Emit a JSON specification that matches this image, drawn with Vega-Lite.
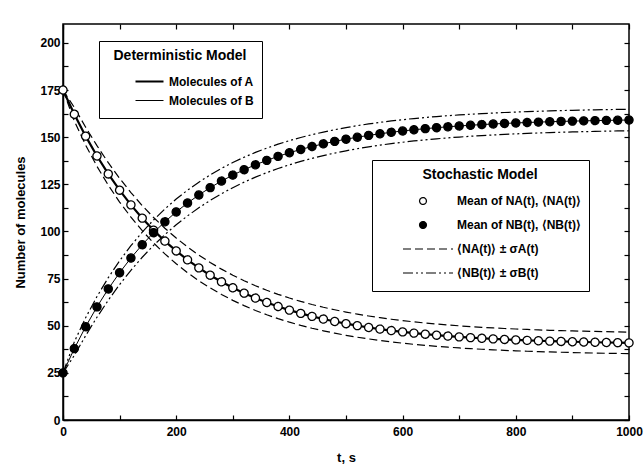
{
  "$schema": "https://vega.github.io/schema/vega-lite/v6.json",
  "width": 566,
  "height": 396,
  "autosize": "none",
  "padding": {"left": 63, "top": 24, "right": 15, "bottom": 49},
  "background": "white",
  "datasets": {
    "d": [
      {"t":0,"A":175,"B":25,"Aup":175,"Alo":175,"Bup":25,"Blo":25},
      {"t":20,"A":162.15,"B":37.85,"Aup":165.72,"Alo":158.58,"Bup":41.42,"Blo":34.28},
      {"t":40,"A":150.53,"B":49.47,"Aup":155.28,"Alo":145.78,"Bup":54.22,"Blo":44.72},
      {"t":60,"A":140.01,"B":59.99,"Aup":145.49,"Alo":134.53,"Bup":65.47,"Blo":54.51},
      {"t":80,"A":130.49,"B":69.51,"Aup":136.45,"Alo":124.53,"Bup":75.47,"Blo":63.55},
      {"t":100,"A":121.88,"B":78.12,"Aup":128.17,"Alo":115.59,"Bup":84.41,"Blo":71.83},
      {"t":120,"A":114.09,"B":85.91,"Aup":120.6,"Alo":107.58,"Bup":92.42,"Blo":79.4},
      {"t":140,"A":107.04,"B":92.96,"Aup":113.7,"Alo":100.38,"Bup":99.62,"Blo":86.3},
      {"t":160,"A":100.66,"B":99.34,"Aup":107.41,"Alo":93.91,"Bup":106.09,"Blo":92.59},
      {"t":180,"A":94.89,"B":105.11,"Aup":101.69,"Alo":88.09,"Bup":111.91,"Blo":98.31},
      {"t":200,"A":89.66,"B":110.34,"Aup":96.48,"Alo":82.84,"Bup":117.16,"Blo":103.52},
      {"t":220,"A":84.94,"B":115.06,"Aup":91.76,"Alo":78.12,"Bup":121.88,"Blo":108.24},
      {"t":240,"A":80.66,"B":119.34,"Aup":87.45,"Alo":73.87,"Bup":126.13,"Blo":112.55},
      {"t":260,"A":76.79,"B":123.21,"Aup":83.55,"Alo":70.03,"Bup":129.97,"Blo":116.45},
      {"t":280,"A":73.29,"B":126.71,"Aup":80.01,"Alo":66.57,"Bup":133.43,"Blo":119.99},
      {"t":300,"A":70.12,"B":129.88,"Aup":76.79,"Alo":63.45,"Bup":136.55,"Blo":123.21},
      {"t":320,"A":67.26,"B":132.74,"Aup":73.87,"Alo":60.65,"Bup":139.35,"Blo":126.13},
      {"t":340,"A":64.66,"B":135.34,"Aup":71.22,"Alo":58.1,"Bup":141.9,"Blo":128.78},
      {"t":360,"A":62.32,"B":137.68,"Aup":68.82,"Alo":55.82,"Bup":144.18,"Blo":131.18},
      {"t":380,"A":60.19,"B":139.81,"Aup":66.64,"Alo":53.74,"Bup":146.26,"Blo":133.36},
      {"t":400,"A":58.27,"B":141.73,"Aup":64.67,"Alo":51.87,"Bup":148.13,"Blo":135.33},
      {"t":420,"A":56.53,"B":143.47,"Aup":62.87,"Alo":50.19,"Bup":149.81,"Blo":137.13},
      {"t":440,"A":54.96,"B":145.04,"Aup":61.25,"Alo":48.67,"Bup":151.33,"Blo":138.75},
      {"t":460,"A":53.54,"B":146.46,"Aup":59.78,"Alo":47.3,"Bup":152.7,"Blo":140.22},
      {"t":480,"A":52.25,"B":147.75,"Aup":58.45,"Alo":46.05,"Bup":153.95,"Blo":141.55},
      {"t":500,"A":51.08,"B":148.92,"Aup":57.24,"Alo":44.92,"Bup":155.08,"Blo":142.76},
      {"t":520,"A":50.03,"B":149.97,"Aup":56.15,"Alo":43.91,"Bup":156.09,"Blo":143.85},
      {"t":540,"A":49.07,"B":150.93,"Aup":55.15,"Alo":42.99,"Bup":157.01,"Blo":144.85},
      {"t":560,"A":48.21,"B":151.79,"Aup":54.25,"Alo":42.17,"Bup":157.83,"Blo":145.75},
      {"t":580,"A":47.43,"B":152.57,"Aup":53.44,"Alo":41.42,"Bup":158.58,"Blo":146.56},
      {"t":600,"A":46.72,"B":153.28,"Aup":52.7,"Alo":40.74,"Bup":159.26,"Blo":147.3},
      {"t":620,"A":46.08,"B":153.92,"Aup":52.03,"Alo":40.13,"Bup":159.87,"Blo":147.97},
      {"t":640,"A":45.5,"B":154.5,"Aup":51.43,"Alo":39.57,"Bup":160.43,"Blo":148.57},
      {"t":660,"A":44.98,"B":155.02,"Aup":50.88,"Alo":39.08,"Bup":160.92,"Blo":149.12},
      {"t":680,"A":44.51,"B":155.49,"Aup":50.39,"Alo":38.63,"Bup":161.37,"Blo":149.61},
      {"t":700,"A":44.08,"B":155.92,"Aup":49.94,"Alo":38.22,"Bup":161.78,"Blo":150.06},
      {"t":720,"A":43.69,"B":156.31,"Aup":49.53,"Alo":37.85,"Bup":162.15,"Blo":150.47},
      {"t":740,"A":43.34,"B":156.66,"Aup":49.17,"Alo":37.51,"Bup":162.49,"Blo":150.83},
      {"t":760,"A":43.02,"B":156.98,"Aup":48.83,"Alo":37.21,"Bup":162.79,"Blo":151.17},
      {"t":780,"A":42.73,"B":157.27,"Aup":48.53,"Alo":36.93,"Bup":163.07,"Blo":151.47},
      {"t":800,"A":42.47,"B":157.53,"Aup":48.25,"Alo":36.69,"Bup":163.31,"Blo":151.75},
      {"t":820,"A":42.24,"B":157.76,"Aup":48.01,"Alo":36.47,"Bup":163.53,"Blo":151.99},
      {"t":840,"A":42.02,"B":157.98,"Aup":47.78,"Alo":36.26,"Bup":163.74,"Blo":152.22},
      {"t":860,"A":41.83,"B":158.17,"Aup":47.58,"Alo":36.08,"Bup":163.92,"Blo":152.42},
      {"t":880,"A":41.66,"B":158.34,"Aup":47.4,"Alo":35.92,"Bup":164.08,"Blo":152.6},
      {"t":900,"A":41.5,"B":158.5,"Aup":47.24,"Alo":35.76,"Bup":164.24,"Blo":152.76},
      {"t":920,"A":41.36,"B":158.64,"Aup":47.09,"Alo":35.63,"Bup":164.37,"Blo":152.91},
      {"t":940,"A":41.23,"B":158.77,"Aup":46.95,"Alo":35.51,"Bup":164.49,"Blo":153.05},
      {"t":960,"A":41.11,"B":158.89,"Aup":46.83,"Alo":35.39,"Bup":164.61,"Blo":153.17},
      {"t":980,"A":41.01,"B":158.99,"Aup":46.72,"Alo":35.3,"Bup":164.7,"Blo":153.28},
      {"t":1000,"A":40.91,"B":159.09,"Aup":46.61,"Alo":35.21,"Bup":164.79,"Blo":153.39}
    ]
  },
  "data": {"name": "d"},
  "resolve": {"axis": {"x": "independent", "y": "independent"}},
  "layer": [
    {
      "mark": {"type": "line", "color": "black"},
      "encoding": {
        "x": {"field": "t", "type": "quantitative", "scale": {"domain": [0, 1000], "nice": false},
          "axis": {"orient": "bottom", "values": [0,100,200,300,400,500,600,700,800,900,1000], "format": "d",
            "labelExpr": "datum.value % 200 === 0 ? datum.label : ''", "labelPadding": 11, "title": "t, s", "titlePadding": 14}},
        "y": {"field": "A", "type": "quantitative", "scale": {"domain": [0, 210], "nice": false, "zero": false},
          "axis": {"orient": "left", "values": [0,12.5,25,37.5,50,62.5,75,87.5,100,112.5,125,137.5,150,162.5,175,187.5,200],
            "labelExpr": "datum.value % 25 === 0 ? datum.label : ''", "labelPadding": 8, "title": "Number of molecules", "titlePadding": 12}},
        "strokeWidth": {"datum": "Molecules of A", "type": "nominal",
          "scale": {"domain": ["Molecules of A", "Molecules of B"], "range": [2.2, 1]},
          "legend": {
            "title": "Deterministic Model",
            "orient": "none", "legendX": 36, "legendY": 17,
            "symbolType": "stroke", "symbolSize": 784, "symbolStrokeColor": "black",
            "clipHeight": 19, "rowPadding": 0, "padding": 8, "titlePadding": 9,
            "symbolOffset": 27, "labelOffset": 4,
            "titleAnchor": "middle", "titleFontSize": 14, "titleFontWeight": "bold", "titleColor": "black",
            "labelFontSize": 12, "labelFontWeight": "bold", "labelColor": "black",
            "strokeColor": "black", "fillColor": "white"
          }}
      }
    },
    {
      "mark": {"type": "line", "color": "black"},
      "encoding": {
        "x": {"field": "t", "type": "quantitative",
          "axis": {"orient": "top", "values": [0,100,200,300,400,500,600,700,800,900,1000], "labels": false, "title": null, "domain": false}},
        "y": {"field": "B", "type": "quantitative",
          "axis": {"orient": "right", "values": [0,12.5,25,37.5,50,62.5,75,87.5,100,112.5,125,137.5,150,162.5,175,187.5,200], "labels": false, "title": null, "domain": false}},
        "strokeWidth": {"datum": "Molecules of B", "type": "nominal"}
      }
    },
    {
      "mark": {"type": "line", "color": "black", "strokeWidth": 1.2},
      "encoding": {
        "x": {"field": "t", "type": "quantitative", "axis": null},
        "y": {"field": "Aup", "type": "quantitative", "axis": null},
        "strokeDash": {"datum": "⟨NA(t)⟩ ± σA(t)", "type": "nominal",
          "scale": {"domain": ["Mean of NA(t), ⟨NA(t)⟩", "Mean of NB(t), ⟨NB(t)⟩", "⟨NA(t)⟩ ± σA(t)", "⟨NB(t)⟩ ± σB(t)"],
            "range": [[1, 0], [1, 0], [8, 4], [10, 3, 2, 3, 2, 3]]},
          "legend": {
            "title": "Stochastic Model",
            "orient": "none", "legendX": 309, "legendY": 136,
            "symbolType": "stroke", "symbolSize": 2500, "symbolStrokeWidth": 1.2, "symbolStrokeColor": "black",
            "clipHeight": 20, "rowPadding": 4, "padding": 8, "titlePadding": 9,
            "symbolOffset": 22, "labelOffset": 3,
            "titleAnchor": "middle", "titleFontSize": 14, "titleFontWeight": "bold", "titleColor": "black",
            "labelFontSize": 12, "labelFontWeight": "bold", "labelColor": "black",
            "strokeColor": "black", "fillColor": "white",
            "encode": {"symbols": {"update": {
              "shape": {"signal": "indexof(datum.value,'Mean')==0 ? 'M-0.06,0L-0.079,0.07L-0.13,0.121L-0.2,0.14L-0.27,0.121L-0.321,0.07L-0.34,0L-0.321,-0.07L-0.27,-0.121L-0.2,-0.14L-0.13,-0.121L-0.079,-0.07Z' : 'stroke'"},
              "fill": {"signal": "indexof(datum.value,'Mean of NB')==0 ? 'black' : (indexof(datum.value,'Mean of NA')==0 ? 'white' : 'transparent')"},
              "stroke": {"value": "black"}
            }}}
          }}
      }
    },
    {
      "mark": {"type": "line", "color": "black", "strokeWidth": 1.2},
      "encoding": {
        "x": {"field": "t", "type": "quantitative", "axis": null},
        "y": {"field": "Alo", "type": "quantitative", "axis": null},
        "strokeDash": {"datum": "⟨NA(t)⟩ ± σA(t)", "type": "nominal"}
      }
    },
    {
      "mark": {"type": "line", "color": "black", "strokeWidth": 1.2},
      "encoding": {
        "x": {"field": "t", "type": "quantitative", "axis": null},
        "y": {"field": "Bup", "type": "quantitative", "axis": null},
        "strokeDash": {"datum": "⟨NB(t)⟩ ± σB(t)", "type": "nominal"}
      }
    },
    {
      "mark": {"type": "line", "color": "black", "strokeWidth": 1.2},
      "encoding": {
        "x": {"field": "t", "type": "quantitative", "axis": null},
        "y": {"field": "Blo", "type": "quantitative", "axis": null},
        "strokeDash": {"datum": "⟨NB(t)⟩ ± σB(t)", "type": "nominal"}
      }
    },
    {
      "mark": {"type": "point", "shape": "circle", "filled": true, "fill": "white", "stroke": "black", "strokeWidth": 1.3, "size": 66, "opacity": 1},
      "encoding": {
        "x": {"field": "t", "type": "quantitative", "axis": null},
        "y": {"field": "A", "type": "quantitative", "axis": null},
        "strokeDash": {"datum": "Mean of NA(t), ⟨NA(t)⟩", "type": "nominal"}
      }
    },
    {
      "mark": {"type": "point", "shape": "circle", "filled": true, "fill": "black", "stroke": "black", "strokeWidth": 1.3, "size": 66, "opacity": 1},
      "encoding": {
        "x": {"field": "t", "type": "quantitative", "axis": null},
        "y": {"field": "B", "type": "quantitative", "axis": null},
        "strokeDash": {"datum": "Mean of NB(t), ⟨NB(t)⟩", "type": "nominal"}
      }
    }
  ],
  "config": {
    "font": "Liberation Sans",
    "view": {"stroke": "black", "strokeWidth": 1.5},
    "axis": {
      "grid": false,
      "tickSize": -5,
      "tickColor": "black",
      "tickWidth": 1.2,
      "domainColor": "black",
      "domainWidth": 1.5,
      "labelFont": "Liberation Sans",
      "labelFontSize": 12,
      "labelFontWeight": "bold",
      "labelColor": "black",
      "labelFlush": false,
      "labelOverlap": false,
      "titleFont": "Liberation Sans",
      "titleFontSize": 13,
      "titleFontWeight": "bold",
      "titleColor": "black"
    },
    "legend": {"labelFont": "Liberation Sans", "titleFont": "Liberation Sans"}
  }
}
